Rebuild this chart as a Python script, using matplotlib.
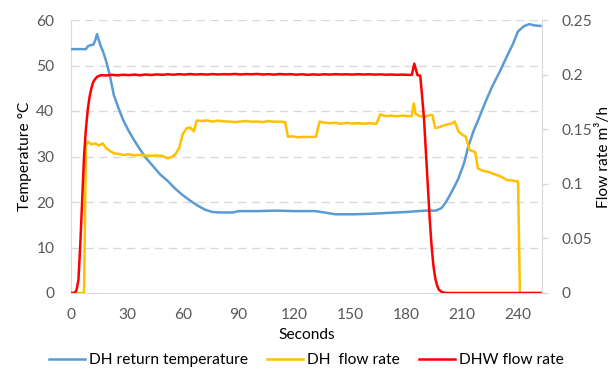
import matplotlib
matplotlib.use("Agg")
import matplotlib.pyplot as plt

plt.rcParams['font.family'] = ['Lato', 'DejaVu Sans']

# ---- data ----
t_temp = [0, 8, 9, 10, 12, 13, 14, 15, 16, 17, 19, 21, 23, 25, 28, 31, 34, 37, 40,
          44, 48, 52, 56, 60, 64, 68, 72, 76, 80, 87, 90, 100, 110, 120, 131, 136,
          142, 152, 160, 170, 180, 190, 196, 199, 201, 203, 206, 208, 211, 213, 216,
          219, 222, 226, 230, 234, 237, 240, 243, 246, 249, 252]
dh_return_temp = [53.6, 53.6, 54.2, 54.4, 54.6, 55.5, 56.9, 55.5, 54.2, 53.3, 50.8,
                  47.5, 43.5, 41.2, 38.0, 35.6, 33.5, 31.6, 29.8, 27.9, 26.0, 24.6,
                  22.9, 21.5, 20.3, 19.2, 18.3, 17.8, 17.7, 17.7, 18.0, 18.0, 18.1,
                  18.0, 18.0, 17.7, 17.3, 17.3, 17.4, 17.6, 17.8, 18.1, 18.1, 18.7,
                  19.8, 21.2, 23.5, 25.2, 28.5, 31.8, 35.5, 38.4, 41.5, 45.3, 48.5,
                  52.0, 54.5, 57.5, 58.6, 59.1, 58.8, 58.7]

t_dh = [0, 7, 8, 9, 11, 13, 15, 17, 19, 21, 23, 25, 28, 31, 34, 37, 40, 43, 46, 49,
        52, 54, 56, 58, 60, 62, 64, 66, 67.5, 70, 73, 76, 79, 82, 85, 88, 91, 94, 97,
        100, 103, 106, 109, 112, 115, 116.5, 119, 122, 125, 128, 131.5, 133.5, 136,
        139, 142, 145, 148, 151, 154, 157, 160, 164, 166, 169, 172, 175, 178, 181,
        183, 184, 185, 187, 190, 193, 194, 195.5, 198, 201, 204, 206, 208, 210,
        212, 214, 217, 218.5, 221, 224, 227, 231, 234, 237, 240, 241, 243, 252]
dh_flow_rate = [0, 0, 0.135, 0.1386, 0.136, 0.137, 0.135, 0.137, 0.1325, 0.130,
                0.128, 0.1275, 0.1264, 0.127, 0.126, 0.1265, 0.126, 0.1255, 0.126,
                0.1255, 0.1233, 0.1245, 0.127, 0.1325, 0.1455, 0.1508, 0.1515, 0.148,
                0.158, 0.1575, 0.158, 0.157, 0.1578, 0.1572, 0.157, 0.1565, 0.157,
                0.1575, 0.1568, 0.157, 0.1565, 0.1575, 0.1568, 0.157, 0.1565, 0.143,
                0.1435, 0.1425, 0.143, 0.1428, 0.143, 0.157, 0.156, 0.1555, 0.1558,
                0.155, 0.1558, 0.1552, 0.1555, 0.155, 0.1555, 0.155, 0.1636, 0.162,
                0.1625, 0.1618, 0.1625, 0.162, 0.162, 0.1737, 0.164, 0.162, 0.1615,
                0.163, 0.163, 0.151, 0.152, 0.154, 0.155, 0.157, 0.148, 0.145, 0.143,
                0.131, 0.129, 0.114, 0.112, 0.111, 0.109, 0.1065, 0.1035, 0.103,
                0.102, 0.0, 0.0, 0.0]

t_dhw = [0, 2, 3, 4, 5, 6, 7, 8, 9, 10, 11, 12, 13, 14, 16, 19, 22, 25, 28, 31, 34,
         37, 40, 43, 46, 49, 52, 55, 58, 61, 64, 67, 70, 73, 76, 79, 82, 85, 88, 91,
         94, 97, 100, 103, 106, 109, 112, 115, 118, 121, 124, 127, 130, 133, 136,
         139, 142, 145, 148, 151, 154, 157, 160, 163, 166, 169, 172, 175, 178, 181,
         183, 184.3, 186, 187.5, 188.5, 189.5, 190.5, 191.5, 192.5, 193.5, 194.5,
         195.5, 196.5, 197.5, 199, 201, 252]
dhw_flow_rate = [0, 0, 0.003, 0.012, 0.045, 0.085, 0.125, 0.150, 0.168, 0.180,
                 0.188, 0.1935, 0.196, 0.198, 0.1995, 0.1992, 0.1998, 0.1993, 0.1999,
                 0.1995, 0.2000, 0.1994, 0.2001, 0.1996, 0.2002, 0.1998, 0.2003,
                 0.1999, 0.2004, 0.2000, 0.2005, 0.2001, 0.2004, 0.2000, 0.2005,
                 0.2001, 0.2004, 0.2002, 0.2006, 0.2001, 0.2005, 0.2003, 0.2006,
                 0.2001, 0.2004, 0.2000, 0.2005, 0.2002, 0.2004, 0.1999, 0.2003,
                 0.1998, 0.2002, 0.1999, 0.2003, 0.2000, 0.2004, 0.2001, 0.2003,
                 0.2000, 0.2004, 0.2001, 0.2003, 0.2000, 0.2002, 0.1999, 0.2001,
                 0.1998, 0.2000, 0.1997, 0.1998, 0.2100, 0.1995, 0.1990, 0.180,
                 0.160, 0.130, 0.100, 0.070, 0.045, 0.026, 0.014, 0.007, 0.003,
                 0.001, 0.0, 0.0]

x_ticks = [0, 30, 60, 90, 120, 150, 180, 210, 240]
temp_ticks = [0, 10, 20, 30, 40, 50, 60]
flow_ticks = [0, 0.05, 0.1, 0.15, 0.2, 0.25]
flow_tick_labels = ["0", "0.05", "0.1", "0.15", "0.2", "0.25"]

# ---- figure ----
fs = 11.2
fig = plt.figure(figsize=(6.13, 3.69), dpi=100)
ax = fig.add_axes([71/613, 1 - 293/369, (541.7 - 71)/613, (293 - 20)/369])
ax2 = ax.twinx()

grey_txt = '#595959'
grid_c = '#D9D9D9'

ax.set_xlim(0, 252.7)
ax.set_ylim(0, 60)
ax2.set_ylim(0, 0.25)

for y in temp_ticks[1:]:
    ax.axhline(y, color=grid_c, lw=1.0, ls=(0, (6, 4)), zorder=0)

l1, = ax.plot(t_temp, dh_return_temp, color='#5B9BD5', lw=1.8, zorder=3)
l2, = ax2.plot(t_dh, dh_flow_rate, color='#FFC000', lw=1.8, zorder=3)
l3, = ax2.plot(t_dhw, dhw_flow_rate, color='#FF0000', lw=1.8, zorder=4)

ax.set_xticks(x_ticks)
ax.set_yticks(temp_ticks)
ax2.set_yticks(flow_ticks)
ax2.set_yticklabels(flow_tick_labels)

for a in (ax, ax2):
    for s in a.spines.values():
        s.set_visible(False)
ax.spines['bottom'].set_visible(True)
ax.spines['bottom'].set_color(grid_c)
ax.spines['left'].set_visible(True)
ax.spines['left'].set_color(grid_c)
ax2.spines['right'].set_visible(True)
ax2.spines['right'].set_color(grid_c)

ax.tick_params(axis='x', length=0, pad=11, labelsize=fs, labelcolor=grey_txt)
ax.tick_params(axis='y', length=0, pad=12, labelsize=fs, labelcolor=grey_txt)
ax2.tick_params(axis='y', length=4, width=1, color=grid_c, direction='out',
                pad=10, labelsize=fs, labelcolor=grey_txt)

ax.set_xlabel('Seconds', fontsize=fs, labelpad=4)
ax.set_ylabel('Temperature °C', fontsize=fs, labelpad=3)
ax2.set_ylabel('Flow rate m³/h', fontsize=fs, labelpad=3)

fig.legend([l1, l2, l3], ['DH return temperature', 'DH  flow rate', 'DHW flow rate'],
           loc='center', bbox_to_anchor=(0.5, 0.024), ncol=3, frameon=False,
           fontsize=fs, handlelength=2.3, columnspacing=1.2, handletextpad=0.3,
           borderpad=0.1)

fig.savefig('out.png', dpi=100)
